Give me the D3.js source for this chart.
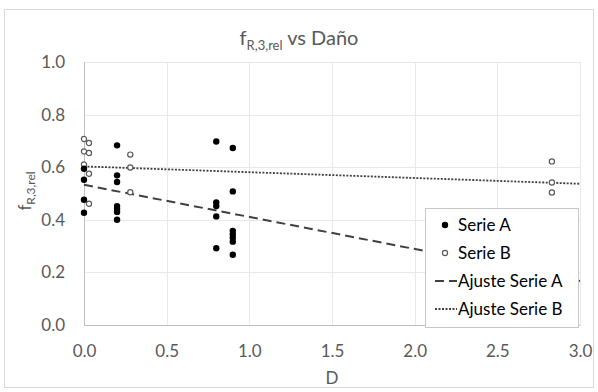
<!DOCTYPE html>
<html lang='es'>
<head>
	<meta charset='utf-8'>
	<title>fR,3,rel vs Daño</title>
	<script src="https://d3js.org/d3.v7.min.js"></script>
	<style>
		body{margin:0;background:#fff;}
		text{font-family:Lato,'Open Sans',sans-serif;fill:#595959;}
	</style>
</head>
<body>
<div id='chart'></div>
<script type='text/javascript'>
	// Serie A (puntos rellenos)
	const serieA_D = [0,0,0,0, 0.2,0.2,0.2,0.2,0.2,0.2,0.2, 0.8,0.8,0.8,0.8,0.8, 0.9,0.9,0.9,0.9,0.9,0.9,0.9];
	const serieA_f = [0.594,0.552,0.476,0.427, 0.683,0.569,0.544,0.452,0.441,0.430,0.400, 0.698,0.466,0.452,0.413,0.292, 0.673,0.508,0.358,0.345,0.332,0.317,0.267];
	// Serie B (circulos vacios)
	const serieB_D = [0,0,0, 0.03,0.03,0.03,0.03, 0.28,0.28,0.28, 2.83,2.83,2.83];
	const serieB_f = [0.707,0.660,0.610, 0.692,0.654,0.575,0.461, 0.648,0.599,0.505, 0.622,0.542,0.504];
	// lineas de ajuste
	const ajusteA_D = [0,3];
	const ajusteA_f = [0.533,0.167];
	const ajusteB_D = [0,3];
	const ajusteB_f = [0.603,0.537];
	// ticks
	const xTicks = [0,0.5,1,1.5,2,2.5,3];
	const yTicks = [0,0.2,0.4,0.6,0.8,1];
	const legendLabels = ["Serie A","Serie B","Ajuste Serie A","Ajuste Serie B"];

	const W = 598, H = 392;
	let margin = {top:62,right:18,bottom:67,left:84};
	let width = W - margin.left - margin.right;
	let height = H - margin.top - margin.bottom;

	let svg = d3.select("#chart").append("svg")
		.attr("width",W).attr("height",H);

	// borde del grafico
	svg.append("rect")
		.attr("x",4.5).attr("y",9.5).attr("width",589).attr("height",378)
		.attr("fill","#fff").attr("stroke","#d9d9d9");

	let g = svg.append("g").attr("transform",`translate(${margin.left},${margin.top})`);

	let x = d3.scaleLinear().domain([0,3]).range([0,width]);
	let y = d3.scaleLinear().domain([0,1]).range([height,0]);

	// rejilla
	g.append("g").selectAll("line").data(yTicks).enter().append("line")
		.attr("x1",0).attr("x2",width)
		.attr("y1",d=>Math.round(y(d))+0.5).attr("y2",d=>Math.round(y(d))+0.5)
		.attr("stroke","#e8e8e8");
	g.append("g").selectAll("line").data(xTicks).enter().append("line")
		.attr("y1",0).attr("y2",height)
		.attr("x1",d=>Math.round(x(d))+0.5).attr("x2",d=>Math.round(x(d))+0.5)
		.attr("stroke","#e8e8e8");

	// ejes
	let xAxis = g.append("g")
		.attr("transform",`translate(0,${height})`)
		.call(d3.axisBottom(x).tickValues(xTicks).tickFormat(d3.format(".1f")).tickSize(0).tickPadding(20));
	let yAxis = g.append("g")
		.call(d3.axisLeft(y).tickValues(yTicks).tickFormat(d3.format(".1f")).tickSize(0).tickPadding(19));
	[xAxis,yAxis].forEach(a=>{
		a.select(".domain").attr("stroke","#bfbfbf");
		a.selectAll("text").style("font-size","17px").attr("fill","#595959");
	});

	// titulos de ejes
	svg.append("text")
		.attr("x",margin.left + width/2).attr("y",384)
		.attr("text-anchor","middle").style("font-size","17px")
		.text("D");

	let yt = svg.append("text")
		.attr("transform","translate(31,191) rotate(-90)")
		.attr("text-anchor","middle").style("font-size","17px");
	yt.append("tspan").text("f");
	yt.append("tspan").attr("dy",4).style("font-size","12px").text("R,3,rel");

	// titulo
	let title = svg.append("text")
		.attr("x",W/2).attr("y",45)
		.attr("text-anchor","middle").style("font-size","20px");
	title.append("tspan").text("f");
	title.append("tspan").attr("dy",5).style("font-size","13px").text("R,3,rel");
	title.append("tspan").attr("dy",-5).text(" vs Daño");

	// lineas de ajuste
	let line = d3.line().x(d=>x(d[0])).y(d=>y(d[1]));
	g.append("path")
		.datum(d3.zip(ajusteA_D,ajusteA_f))
		.attr("d",line).attr("fill","none")
		.attr("stroke","#404040").attr("stroke-width",2).attr("stroke-dasharray","9,5");
	g.append("path")
		.datum(d3.zip(ajusteB_D,ajusteB_f))
		.attr("d",line).attr("fill","none")
		.attr("stroke","#404040").attr("stroke-width",1.8).attr("stroke-dasharray","2,1.5");

	// puntos
	g.append("g").selectAll("circle")
		.data(d3.zip(serieB_D,serieB_f)).enter().append("circle")
		.attr("cx",d=>x(d[0])).attr("cy",d=>y(d[1])).attr("r",2.6)
		.attr("fill","#fff").attr("stroke","#595959").attr("stroke-width",1.2);
	g.append("g").selectAll("circle")
		.data(d3.zip(serieA_D,serieA_f)).enter().append("circle")
		.attr("cx",d=>x(d[0])).attr("cy",d=>y(d[1])).attr("r",3.2)
		.attr("fill","#000");

	// leyenda
	let legend = svg.append("g").attr("transform","translate(425,208)");
	legend.append("rect")
		.attr("x",0.5).attr("y",0.5).attr("width",153).attr("height",119)
		.attr("fill","#fff").attr("stroke","#c8c8c8");
	legendLabels.forEach(function(d,i){
		let cy = 17 + 28*i;
		if(i==0){
			legend.append("circle").attr("cx",20).attr("cy",cy).attr("r",3.2).attr("fill","#000");
		} else if(i==1){
			legend.append("circle").attr("cx",20).attr("cy",cy).attr("r",2.6)
				.attr("fill","#fff").attr("stroke","#595959").attr("stroke-width",1.2);
		} else {
			legend.append("line").attr("x1",10).attr("x2",32).attr("y1",cy).attr("y2",cy)
				.attr("stroke","#404040")
				.attr("stroke-width",i==2?2:1.8)
				.attr("stroke-dasharray",i==2?"9,5":"2,1.5");
		}
		legend.append("text").attr("x",33).attr("y",cy).attr("dy","0.35em")
			.style("font-size","17px").style("fill","#000")
			.text(d);
	});
</script>
</body>
</html>
